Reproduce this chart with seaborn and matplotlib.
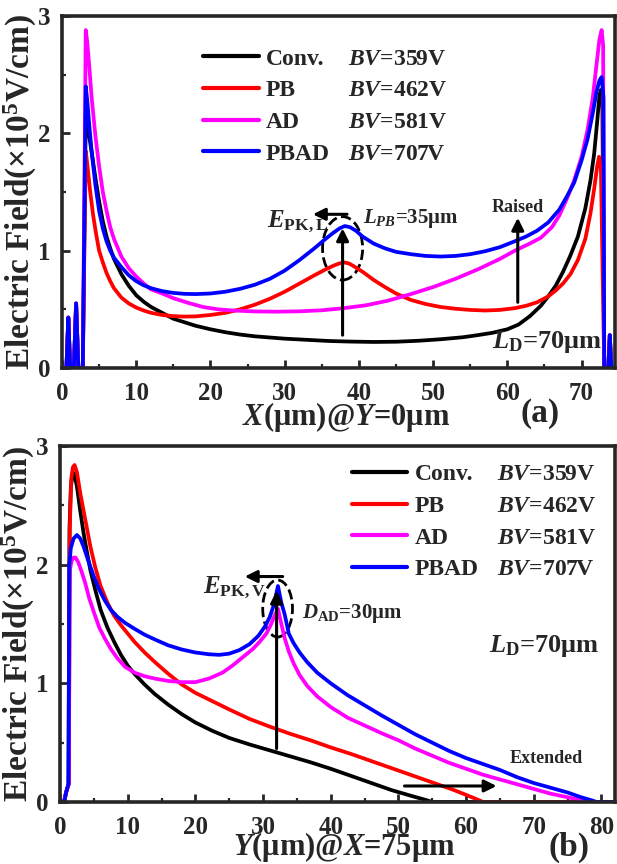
import numpy as np
import pandas as pd
import matplotlib
matplotlib.use("Agg")
import matplotlib.pyplot as plt
import seaborn as sns
from matplotlib.lines import Line2D
from matplotlib.patches import Ellipse
from matplotlib.ticker import MultipleLocator

# ---------------- data ----------------
devices = ["Conv.", "PB", "AD", "PBAD"]
bv_values = ["359V", "462V", "581V", "707V"]
colors = ["#000000", "#ff0000", "#ff00ff", "#0000ff"]

x_ticks_a = [0, 10, 20, 30, 40, 50, 60, 70]
x_ticks_b = [0, 10, 20, 30, 40, 50, 60, 70, 80]
y_ticks = [0, 1, 2, 3]

# (a) lateral field along the surface, Y = 0 um
lead_x_a = [0, 0.6, 0.85, 1.1, 1.6, 1.9, 2.2, 2.8]
lead_y_a = [0, 0, 0.43, 0, 0, 0.55, 0, 0]
tail_x_a = [73.05, 73.6, 73.8, 74.0, 74.5]
tail_y_a = [0, 0, 0.28, 0, 0]

conv_x_a = [3.2, 3.4, 3.7, 4.0, 4.5, 5, 5.5, 6, 6.5, 7, 8, 9, 10, 11, 12, 13.5, 15, 16.5,
            18, 20, 22, 24, 26, 28, 30, 33, 36, 39, 42, 45, 48, 51, 54, 56, 58, 60, 61.5,
            63, 64.5, 65.5, 66.5, 67.5, 68.5, 69.5, 70.5, 71.2, 71.7, 72.1, 72.4, 72.6,
            72.8]
conv_y_a = [2.15, 2.08, 1.96, 1.84, 1.62, 1.42, 1.25, 1.12, 1.02, 0.93, 0.80, 0.70, 0.62,
            0.565, 0.52, 0.47, 0.42, 0.39, 0.36, 0.33, 0.305, 0.285, 0.27, 0.26, 0.25,
            0.24, 0.23, 0.225, 0.222, 0.224, 0.232, 0.245, 0.262, 0.28, 0.30, 0.33, 0.37,
            0.44, 0.53, 0.61, 0.70, 0.82, 0.96, 1.12, 1.36, 1.60, 1.83, 2.10, 2.32, 2.37,
            2.25]

pb_x_a = [3.2, 3.5, 3.8, 4.2, 4.6, 5, 5.5, 6, 6.5, 7, 8, 9, 10, 11, 12, 13.5, 15, 16.5,
          18, 20, 22, 24, 26, 28, 30, 32, 34, 35.5, 36.5, 37.3, 38, 38.7, 39.5, 40.5, 42,
          43.5, 45, 47, 49, 51, 53, 55, 57, 59, 61, 62.5, 64, 65.5, 66.5, 67.5, 68.5,
          69.5, 70.5, 71.2, 71.7, 72.1, 72.35, 72.6]
pb_y_a = [1.85, 1.68, 1.50, 1.30, 1.14, 1.00, 0.90, 0.81, 0.74, 0.68, 0.60, 0.55, 0.515,
          0.49, 0.47, 0.452, 0.442, 0.438, 0.44, 0.452, 0.47, 0.50, 0.54, 0.59, 0.65,
          0.72, 0.79, 0.84, 0.87, 0.89, 0.90, 0.89, 0.86, 0.82, 0.75, 0.69, 0.635, 0.58,
          0.545, 0.52, 0.505, 0.495, 0.49, 0.495, 0.51, 0.53, 0.56, 0.61, 0.66, 0.72,
          0.80, 0.92, 1.10, 1.32, 1.53, 1.72, 1.80, 1.70]

ad_x_a = [3.2, 3.4, 3.7, 4.0, 4.5, 5, 5.5, 6, 6.5, 7, 8, 9, 10, 11, 12, 13.5, 15, 17, 19,
          21, 23, 26, 29, 32, 35, 38, 41, 44, 47, 50, 53, 56, 59, 61, 63, 64.5, 66, 67,
          68, 69, 70, 70.8, 71.5, 72, 72.4, 72.7, 72.9]
ad_y_a = [2.88, 2.78, 2.55, 2.30, 1.98, 1.72, 1.50, 1.34, 1.20, 1.10, 0.95, 0.85, 0.78,
          0.72, 0.67, 0.635, 0.595, 0.555, 0.52, 0.50, 0.49, 0.482, 0.48, 0.483, 0.492,
          0.51, 0.535, 0.575, 0.63, 0.69, 0.76, 0.84, 0.93, 1.00, 1.06, 1.11, 1.20, 1.30,
          1.44, 1.60, 1.80, 2.03, 2.30, 2.58, 2.80, 2.88, 2.75]

pbad_x_a = [3.2, 3.4, 3.7, 4.0, 4.5, 5, 5.5, 6, 6.5, 7, 8, 9, 10, 11, 12, 13.5, 15, 16.5,
            18, 20, 22, 24, 26, 28, 30, 32, 34, 35.5, 36.5, 37.4, 38.1, 38.8, 39.6, 40.5,
            42, 43.5, 45, 47, 49, 51, 53, 55, 57, 59, 61, 62.5, 64, 65.5, 67, 68, 69, 70,
            70.8, 71.5, 72, 72.4, 72.7, 72.95]
pbad_y_a = [2.40, 2.28, 2.05, 1.84, 1.56, 1.34, 1.19, 1.08, 1.00, 0.94, 0.86, 0.79, 0.74,
            0.705, 0.68, 0.655, 0.64, 0.632, 0.63, 0.635, 0.65, 0.675, 0.71, 0.76, 0.83,
            0.92, 1.02, 1.10, 1.15, 1.19, 1.21, 1.20, 1.17, 1.12, 1.06, 1.02, 0.99, 0.97,
            0.955, 0.95, 0.955, 0.97, 0.995, 1.03, 1.08, 1.12, 1.17, 1.24, 1.35, 1.46,
            1.58, 1.77, 1.95, 2.17, 2.35, 2.45, 2.48, 2.30]

# (b) vertical field through the drain side, X = 75 um
conv_x_b = [0, 0.6, 0.9, 1.1, 1.25, 1.4, 1.6, 1.85, 2.1, 2.5, 3.0, 3.5, 4, 4.5, 5.2, 6, 7,
            8, 9, 10, 11, 12.5, 14, 16, 18, 20, 22.5, 25, 28, 31, 34, 37, 40, 43, 46,
            49, 52, 54, 55, 82]
conv_y_b = [0, 0, 0.08, 0.12, 0.15, 2.30, 2.65, 2.76, 2.77, 2.66, 2.45, 2.26, 2.10, 1.95,
            1.79, 1.62, 1.47, 1.35, 1.24, 1.15, 1.08, 0.99, 0.91, 0.82, 0.74, 0.67, 0.60,
            0.54, 0.485, 0.435, 0.385, 0.335, 0.28, 0.22, 0.16, 0.10, 0.05, 0.018, 0, 0]

pb_x_b = [0, 0.6, 0.9, 1.1, 1.3, 1.45, 1.65, 1.9, 2.15, 2.5, 3.0, 3.5, 4, 4.5, 5.2, 6, 7,
          8, 9, 10, 11, 12.5, 14, 16, 18, 20, 22.5, 25, 28, 31, 34, 37, 40, 43, 46, 49,
          52, 55, 58, 60, 61.5, 62.5, 82]
pb_y_b = [0, 0, 0.08, 0.12, 0.15, 2.30, 2.72, 2.82, 2.84, 2.78, 2.60, 2.45, 2.30, 2.15,
          1.98, 1.82, 1.68, 1.57, 1.49, 1.42, 1.35, 1.26, 1.18, 1.08, 0.99, 0.92, 0.85,
          0.78, 0.70, 0.635, 0.575, 0.52, 0.46, 0.405, 0.345, 0.285, 0.225, 0.165, 0.105,
          0.06, 0.025, 0, 0]

ad_x_b = [0, 0.6, 0.9, 1.1, 1.3, 1.45, 1.7, 2.0, 2.3, 2.7, 3.2, 3.7, 4.3, 5, 5.8, 6.6,
          7.5, 8.5, 9.6, 11, 12.5, 14, 16, 18, 20, 22, 24, 25.5, 27, 28.5, 29.5, 30.5,
          31.2, 31.7, 32.2, 32.7, 33.2, 33.8, 34.5, 35.4, 36.5, 38, 40, 42.5, 45, 47.5,
          50, 52.5, 55, 57.5, 60, 62.5, 65, 67.5, 70, 72.5, 75, 77, 78, 82]
ad_y_b = [0, 0, 0.08, 0.12, 0.15, 1.95, 2.03, 2.06, 2.06, 2.02, 1.94, 1.85, 1.72, 1.60,
          1.47, 1.38, 1.29, 1.21, 1.14, 1.09, 1.06, 1.04, 1.02, 1.01, 1.01, 1.04, 1.09,
          1.15, 1.22, 1.29, 1.35, 1.42, 1.50, 1.57, 1.63, 1.50, 1.38, 1.27, 1.17, 1.07,
          0.98, 0.89, 0.80, 0.71, 0.645, 0.58, 0.52, 0.45, 0.39, 0.33, 0.28, 0.23, 0.19,
          0.15, 0.11, 0.07, 0.04, 0.015, 0, 0]

pbad_x_b = [0, 0.6, 0.9, 1.1, 1.25, 1.38, 1.6, 2.0, 2.5, 3.0, 3.5, 4.2, 5, 5.8, 6.6, 7.5,
            8.5, 9.6, 11, 12.5, 14, 16, 18, 20, 22, 23.5, 25, 26.5, 28, 29.3, 30.3, 31,
            31.6, 32.2, 32.7, 33.2, 33.8, 34.5, 35.4, 36.5, 38, 40, 42.5, 45, 47.5, 50,
            52.5, 55, 57.5, 60, 62.5, 65, 67.5, 70, 72.5, 75, 77, 78.5, 79.3, 82]
pbad_y_b = [0, 0, 0.08, 0.12, 0.15, 2.00, 2.14, 2.22, 2.25, 2.22, 2.15, 2.03, 1.90, 1.79,
            1.70, 1.62, 1.56, 1.51, 1.46, 1.41, 1.37, 1.32, 1.285, 1.26, 1.245, 1.24, 1.25,
            1.28, 1.33, 1.40, 1.48, 1.56, 1.66, 1.82, 1.68, 1.58, 1.42, 1.34, 1.26, 1.18,
            1.09, 1.00, 0.90, 0.815, 0.73, 0.65, 0.57, 0.50, 0.43, 0.37, 0.32, 0.27, 0.21,
            0.16, 0.12, 0.08, 0.04, 0.015, 0, 0]

# ---------------- tables ----------------
def frame(pairs):
    rows = []
    for name, xs, ys in pairs:
        rows.append(pd.DataFrame({"x": xs, "E": ys, "device": name}))
    return pd.concat(rows, ignore_index=True)

df_a = frame([
    ("Conv.", lead_x_a + conv_x_a + tail_x_a, lead_y_a + conv_y_a + tail_y_a),
    ("PB", lead_x_a + pb_x_a + tail_x_a, lead_y_a + pb_y_a + tail_y_a),
    ("AD", lead_x_a + ad_x_a + tail_x_a, lead_y_a + ad_y_a + tail_y_a),
    ("PBAD", lead_x_a + pbad_x_a + tail_x_a, lead_y_a + pbad_y_a + tail_y_a),
])
df_b = frame([
    ("Conv.", conv_x_b, conv_y_b),
    ("PB", pb_x_b, pb_y_b),
    ("AD", ad_x_b, ad_y_b),
    ("PBAD", pbad_x_b, pbad_y_b),
])

# ---------------- style ----------------
sns.set_style("ticks")
plt.rcParams["font.family"] = ["Liberation Serif", "DejaVu Serif"]
plt.rcParams["font.weight"] = "bold"
plt.rcParams["mathtext.fontset"] = "custom"
plt.rcParams["mathtext.rm"] = "Liberation Serif:bold"
plt.rcParams["mathtext.it"] = "Liberation Serif:italic:bold"
plt.rcParams["mathtext.bf"] = "Liberation Serif:bold"

palette = dict(zip(devices, colors))

fig = plt.figure(figsize=(6.17, 8.64), dpi=100)
ax_a = fig.add_axes([62 / 617, (864 - 368) / 864, 553 / 617, 352 / 864])
ax_b = fig.add_axes([60 / 617, (864 - 802) / 864, 555 / 617, 356 / 864])


def draw_panel(ax, df, xmax, xticks, xlabel, xlabel_y, tag, tag_xy, leg_anchor):
    sns.lineplot(data=df, x="x", y="E", hue="device", hue_order=devices,
                 palette=palette, estimator=None, sort=False, linewidth=2.7,
                 legend=False, ax=ax)
    ax.set_xlim(0, xmax)
    ax.set_ylim(0, 3)
    ax.set_xticks(xticks)
    ax.set_xticklabels([str(t) for t in xticks], fontsize=18, fontweight="bold")
    ax.set_yticks(y_ticks)
    ax.set_yticklabels([str(t) for t in y_ticks], fontsize=18, fontweight="bold")
    ax.xaxis.set_minor_locator(MultipleLocator(5))
    ax.yaxis.set_minor_locator(MultipleLocator(0.5))
    ax.tick_params(which="both", direction="in", top=False, right=False)
    ax.tick_params(axis="x", pad=10)
    ax.tick_params(axis="y", pad=8)
    ax.tick_params(which="major", length=6, width=2)
    ax.tick_params(which="minor", length=3, width=1.6)
    for sp in ax.spines.values():
        sp.set_linewidth(2.6)
        sp.set_visible(True)
    ax.set_ylabel("Electric Field(×10$^{\\mathrm{5}}$V/cm)", fontsize=24,
                  fontweight="bold")
    ax.yaxis.set_label_coords(-0.042, 0.5)
    ax.set_xlabel(xlabel, fontsize=22, fontweight="bold")
    ax.xaxis.set_label_coords(0.513, xlabel_y)
    ax.text(tag_xy[0], tag_xy[1], tag, transform=ax.transAxes, fontsize=24,
            fontweight="bold", ha="center", va="center")

    handles = [Line2D([], [], color=c, lw=3) for c in colors]
    handles += [Line2D([], [], alpha=0) for _ in colors]
    labels = devices + ["$\\mathit{BV}$=" + v for v in bv_values]
    ax.legend(handles, labels, ncol=2, loc="upper left", bbox_to_anchor=leg_anchor,
              frameon=False, handlelength=2.35, handletextpad=0.3,
              columnspacing=-1.85, labelspacing=0.43, borderpad=0, borderaxespad=0,
              prop={"weight": "bold", "size": 17})


draw_panel(ax_a, df_a, 74.5, x_ticks_a, "$\\mathit{X}$(μm)@$\\mathit{Y}$=0μm", -0.09,
           "(a)", (0.864, -0.13), (0.255, 0.909))
draw_panel(ax_b, df_b, 82, x_ticks_b, "$\\mathit{Y}$(μm)@$\\mathit{X}$=75μm", -0.078,
           "(b)", (0.917, -0.128), (0.526, 0.950))

arrow = dict(arrowstyle="-|>", color="black", lw=2.2, mutation_scale=18,
             shrinkA=0, shrinkB=0)

# annotations, panel (a)
ax_a.annotate("", xy=(37.8, 1.19), xytext=(37.8, 0.28), arrowprops=arrow)
ax_a.annotate("", xy=(33.8, 1.31), xytext=(38.4, 1.31), arrowprops=arrow)
ax_a.add_patch(Ellipse((37.8, 1.02), 5.4, 0.54, fill=False, ls="--", lw=2,
                       ec="black"))
ax_a.text(27.6, 1.20, "$\\mathit{E}_{\\mathrm{PK,L}}$", fontsize=18, va="baseline")
ax_a.text(40.5, 1.24, "$\\mathit{L}_{\\mathit{PB}}$=35μm", fontsize=15,
          va="baseline")
ax_a.text(57.9, 1.33, "Raised", fontsize=13, va="baseline")
ax_a.annotate("", xy=(61.4, 1.28), xytext=(61.4, 0.56), arrowprops=arrow)
ax_a.text(57.9, 0.17, "$\\mathit{L}_{\\mathrm{D}}$=70μm", fontsize=19,
          va="baseline")

# annotations, panel (b)
ax_b.annotate("", xy=(32.0, 1.78), xytext=(32.0, 0.45), arrowprops=arrow)
ax_b.annotate("", xy=(27.3, 1.90), xytext=(32.9, 1.90), arrowprops=arrow)
ax_b.add_patch(Ellipse((32.15, 1.63), 4.4, 0.48, fill=False, ls="--", lw=2,
                       ec="black"))
ax_b.text(21.1, 1.76, "$\\mathit{E}_{\\mathrm{PK,V}}$", fontsize=18, va="baseline")
ax_b.text(35.8, 1.55, "$\\mathit{D}_{\\mathrm{AD}}$=30μm", fontsize=15,
          va="baseline")
ax_b.text(63.4, 1.26, "$\\mathit{L}_{\\mathrm{D}}$=70μm", fontsize=19,
          va="baseline")
ax_b.text(66.4, 0.33, "Extended", fontsize=13, va="baseline")
ax_b.annotate("", xy=(64.5, 0.135), xytext=(50.9, 0.135), arrowprops=arrow)

fig.savefig("out.png", dpi=100)
